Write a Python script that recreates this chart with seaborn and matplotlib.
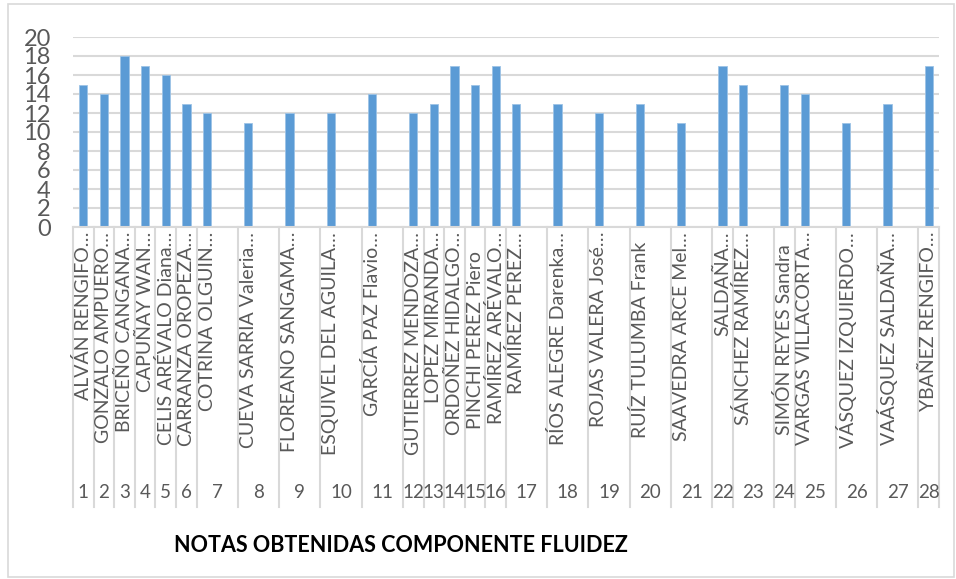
import pandas as pd
import numpy as np
import matplotlib
matplotlib.use("Agg")
import matplotlib.pyplot as plt
import matplotlib.transforms as mtransforms
from matplotlib.patches import Rectangle
import seaborn as sns

# group numbers shown on the bottom row of the category axis
groups = list(range(1, 29))

# student names (as shown, truncated by the chart)
names = [
    "ALVÁN RENGIFO…", "GONZALO AMPUERO…", "BRICEÑO CANGANA…", "CAPUÑAY WAN…",
    "CELIS ARÉVALO Diana…", "CARRANZA OROPEZA…", "COTRINA OLGUIN…",
    "CUEVA SARRIA Valeria…", "FLOREANO SANGAMA…", "ESQUIVEL DEL AGUILA…",
    "GARCÍA PAZ Flavio…", "GUTIERREZ MENDOZA…", "LOPEZ MIRANDA…",
    "ORDOÑEZ HIDALGO…", "PINCHI PEREZ Piero", "RAMÍREZ ARÉVALO…",
    "RAMÍREZ PEREZ…", "RÍOS ALEGRE Darenka…", "ROJAS VALERA José…",
    "RUÍZ TULUMBA Frank", "SAAVEDRA ARCE Mel…", "SALDAÑA…",
    "SÁNCHEZ RAMÍREZ…", "SIMÓN REYES Sandra", "VARGAS VILLACORTA…",
    "VÁSQUEZ IZQUIERDO…", "VAÁSQUEZ SALDAÑA…", "YBAÑEZ RENGIFO…",
]

# grade per student
notas = [15, 14, 18, 17, 16, 13, 12, 11, 12, 12, 14, 12, 13, 17,
         15, 17, 13, 13, 12, 13, 11, 17, 15, 15, 14, 11, 13, 17]

# number of category slots each group occupies on the axis (second slot is empty)
group_slots = [1, 1, 1, 1, 1, 1, 2, 2, 2, 2, 2, 1, 1, 1, 1, 1,
               2, 2, 2, 2, 2, 1, 2, 1, 2, 2, 2, 1]

# build slot table
slot_ids = []
bar_slot = []
group_start = []
k = 0
for g, n in zip(groups, group_slots):
    group_start.append(k)
    bar_slot.append(k)
    for j in range(n):
        slot_ids.append(f"s{k}")
        k += 1
n_slots = k

df = pd.DataFrame({"slot": [f"s{i}" for i in bar_slot], "nota": notas})

W, H = 956, 579
fig = plt.figure(figsize=(W / 100, H / 100), dpi=100)
ax = fig.add_axes([73 / W, 1 - 227 / H, (939 - 73) / W, (227 - 37) / H])

blue = "#5b9bd5"
grid = "#d9d9d9"
txt = "#595959"
font = "Lato"

sns.barplot(data=df, x="slot", y="nota", order=slot_ids, color=blue,
            width=0.4, saturation=1, ax=ax, edgecolor="#9dc3e6", linewidth=0.6)

ax.set_xlim(-0.5, n_slots - 0.5)
ax.set_ylim(0, 20)
ax.set_yticks(range(0, 21, 2))
ax.set_yticklabels([str(v) for v in range(0, 21, 2)], fontsize=17,
                   color=txt, family=font)
ax.tick_params(axis="y", length=0, pad=16)
ax.tick_params(axis="x", length=0, labelbottom=False)
ax.set_xlabel("")
ax.set_ylabel("")
ax.yaxis.grid(True, color=grid, linewidth=1.5)
ax.set_axisbelow(True)
for s in ["left", "right", "top"]:
    ax.spines[s].set_visible(False)
ax.spines["bottom"].set_color(grid)
ax.spines["bottom"].set_linewidth(1.5)

trans = mtransforms.blended_transform_factory(ax.transData, fig.transFigure)

# category name row
for name, s in zip(names, bar_slot):
    if name.endswith("…"):
        ax.text(s, 1 - 232 / H, name, rotation=90, ha="center", va="top",
                fontsize=14, color=txt, family=font, transform=trans)
    else:
        ax.text(s, 1 - 340 / H, name, rotation=90, ha="center", va="center",
                fontsize=14, color=txt, family=font, transform=trans)

# group number row and separators
for g, st, n in zip(groups, group_start, group_slots):
    ax.text(st + (n - 1) / 2, 1 - 493 / H, str(g), ha="center", va="center",
            fontsize=13.5, color=txt, family=font, transform=trans)
edges = [st - 0.5 for st in group_start] + [n_slots - 0.5]
for e in edges:
    ax.plot([e, e], [1 - 227 / H, 1 - 507 / H], color=grid, linewidth=1.5,
            transform=trans, clip_on=False)

fig.text(401 / W, 1 - 545 / H, "NOTAS OBTENIDAS COMPONENTE FLUIDEZ",
         ha="center", va="center", fontsize=15.5, fontweight="bold",
         color="black", family=font)

fig.patches.append(Rectangle((8 / W, 2 / H), (W - 10) / W, (H - 6) / H,
                             transform=fig.transFigure, fill=False,
                             edgecolor=grid, linewidth=1.2))

fig.savefig("out.png", dpi=100)
